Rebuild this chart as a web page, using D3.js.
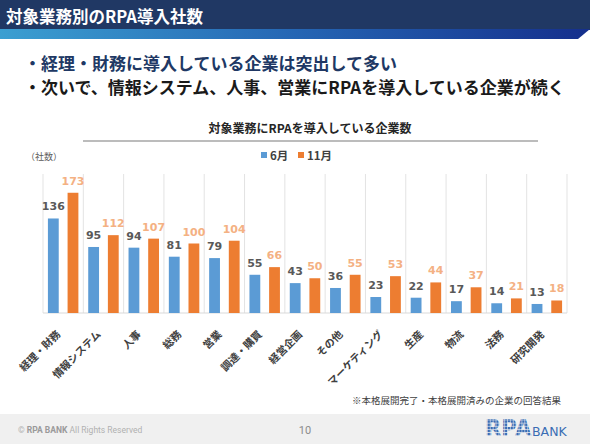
<!DOCTYPE html>
<html>
<head>
<meta charset="utf-8">
<script src="https://cdn.jsdelivr.net/npm/d3@7"></script>
<style>
html,body{margin:0;padding:0;background:#fff;}
svg{display:block;}
</style>
</head>
<body>
<svg id="chart" width="590" height="444"></svg>
<script>
const categories = ["経理・財務","情報システム","人事","総務","営業","調達・購買","経営企画","その他","マーケティング","生産","物流","法務","研究開発"];
const seriesNames = ["6月","11月"];
const june = [136,95,94,81,79,55,43,36,23,22,17,14,13];
const november = [173,112,107,100,104,66,50,55,53,44,37,21,18];
const yTicks = [0,50,100,150,200];

const pageTitle = "対象業務別のRPA導入社数";
const bullet1 = "・経理・財務に導入している企業は突出して多い";
const bullet2 = "・次いで、情報システム、人事、営業にRPAを導入している企業が続く";
const chartTitle = "対象業務にRPAを導入している企業数";
const unitLabel = "（社数）";
const footnote = "※本格展開完了・本格展開済みの企業の回答結果";

const colors = {"6月":"#5b9bd5","11月":"#ed7d31"};
const labelColors = {"6月":"#595959","11月":"#f4b183"};
const JP = "'Noto Sans CJK JP','Noto Sans',sans-serif";

const svg = d3.select("#chart");
const defs = svg.append("defs");

// header
svg.append("rect").attr("x",0).attr("y",0).attr("width",590).attr("height",30).attr("fill","#203864");
const grad = defs.append("linearGradient").attr("id","stripe").attr("x1","0").attr("x2","1").attr("y1","0").attr("y2","0");
grad.append("stop").attr("offset","0").attr("stop-color","#3b9fd1");
grad.append("stop").attr("offset","0.5").attr("stop-color","#2566b4");
grad.append("stop").attr("offset","1").attr("stop-color","#152f8c");
svg.append("path").attr("d","M0,29 L590,29 L578,39 L0,39 Z").attr("fill","url(#stripe)");
svg.append("text").attr("x",6).attr("y",22.5).attr("fill","#fff")
  .attr("font-family",JP).attr("font-weight","bold").attr("font-size",16.5).text(pageTitle);

// bullets
svg.append("text").attr("x",24).attr("y",70).attr("fill","#203864")
  .attr("font-family",JP).attr("font-weight","bold").attr("font-size",17).text(bullet1);
svg.append("text").attr("x",24).attr("y",94).attr("fill","#1a1a1a")
  .attr("font-family",JP).attr("font-weight","bold").attr("font-size",17).text(bullet2);

// chart title
svg.append("text").attr("x",310).attr("y",133).attr("text-anchor","middle").attr("fill","#262626")
  .attr("font-family",JP).attr("font-weight","bold").attr("font-size",12).text(chartTitle);
svg.append("line").attr("x1",83).attr("x2",538).attr("y1",141).attr("y2",141)
  .attr("stroke","#a6a6a6").attr("stroke-width",1.5);

svg.append("text").attr("x",26).attr("y",160).attr("fill","#595959")
  .attr("font-family",JP).attr("font-size",9).text(unitLabel);

// legend
const legend = svg.append("g");
const legendX = {"6月":261,"11月":298};
seriesNames.forEach(s=>{
  legend.append("rect").attr("x",legendX[s]).attr("y",152).attr("width",6).attr("height",6).attr("fill",colors[s]);
  legend.append("text").attr("x",legendX[s]+9).attr("y",159.5).attr("fill","#404040")
    .attr("font-family",JP).attr("font-weight","bold").attr("font-size",11.5).text(s);
});

// scales
const x = d3.scaleBand().domain(categories).range([43,567]).paddingInner(0).paddingOuter(0);
const xs = d3.scaleBand().domain(seriesNames).range([0,x.bandwidth()]).paddingInner(0.45).paddingOuter(0.25);
const y = d3.scaleLinear().domain([0,200]).range([313,174]);

// gridlines at category boundaries
const bounds = categories.map(c=>x(c)).concat([x.range()[1]]);
svg.append("g").selectAll("line").data(bounds).join("line")
  .attr("x1",d=>d).attr("x2",d=>d).attr("y1",y(200)).attr("y2",y(0))
  .attr("stroke","#e3e3e3").attr("stroke-width",1);
svg.append("line").attr("x1",x.range()[0]).attr("x2",x.range()[1]).attr("y1",y(0)).attr("y2",y(0))
  .attr("stroke","#d9d9d9").attr("stroke-width",1);

const data = [];
categories.forEach((c,i)=>{
  data.push({c, s:"6月", v:june[i]});
  data.push({c, s:"11月", v:november[i]});
});

svg.append("g").selectAll("rect").data(data).join("rect")
  .attr("x",d=>x(d.c)+xs(d.s)).attr("width",xs.bandwidth())
  .attr("y",d=>y(d.v)).attr("height",d=>y(0)-y(d.v))
  .attr("fill",d=>colors[d.s]);

svg.append("g").selectAll("text").data(data).join("text")
  .attr("x",d=>x(d.c)+xs(d.s)+xs.bandwidth()/2).attr("y",d=>y(d.v)-8)
  .attr("text-anchor","middle").attr("fill",d=>labelColors[d.s])
  .attr("font-family","'DejaVu Sans',sans-serif").attr("font-weight","bold").attr("font-size",11)
  .text(d=>d.v);

// category axis labels
svg.append("g").selectAll("text").data(categories).join("text")
  .attr("transform",d=>`translate(${x(d)+x.bandwidth()/2-2},335) rotate(-45)`)
  .attr("text-anchor","end").attr("fill","#404040")
  .attr("font-family",JP).attr("font-weight","bold").attr("font-size",10.5)
  .text(d=>d);

// footnote
svg.append("text").attr("x",561).attr("y",404).attr("text-anchor","end").attr("fill","#404040")
  .attr("font-family",JP).attr("font-size",9.5).text(footnote);

// footer
svg.append("rect").attr("x",0).attr("y",414).attr("width",590).attr("height",30).attr("fill","#f0f0f0");
const copy = svg.append("text").attr("x",18).attr("y",433).attr("fill","#b0b0b0")
  .attr("font-family","Roboto,sans-serif").attr("font-size",8.5);
copy.append("tspan").text("© ");
copy.append("tspan").attr("fill","#9a9a9a").attr("font-weight","bold").text("RPA BANK");
copy.append("tspan").text(" All Rights Reserved");
svg.append("text").attr("x",305).attr("y",434).attr("text-anchor","middle").attr("fill","#8c8c8c")
  .attr("font-family","Roboto,sans-serif").attr("font-size",11).text("10");

// logo
const pat = defs.append("pattern").attr("id","pix").attr("patternUnits","userSpaceOnUse").attr("width",2.5).attr("height",2.5);
pat.append("rect").attr("width",2.5).attr("height",2.5).attr("fill","#f0f0f0");
pat.append("rect").attr("width",2).attr("height",2).attr("fill","#3a6db4");
svg.append("text").attr("transform","translate(485,436) scale(1.15,1.25)").attr("fill","url(#pix)")
  .attr("font-family","'DejaVu Sans',sans-serif").attr("font-weight","bold").attr("font-size",18.5)
  .text("RPA");
svg.append("text").attr("x",532).attr("y",436).attr("fill","#3a6db4")
  .attr("font-family","'DejaVu Sans',sans-serif").attr("font-size",12.5)
  .text("BANK");
</script>
</body>
</html>
